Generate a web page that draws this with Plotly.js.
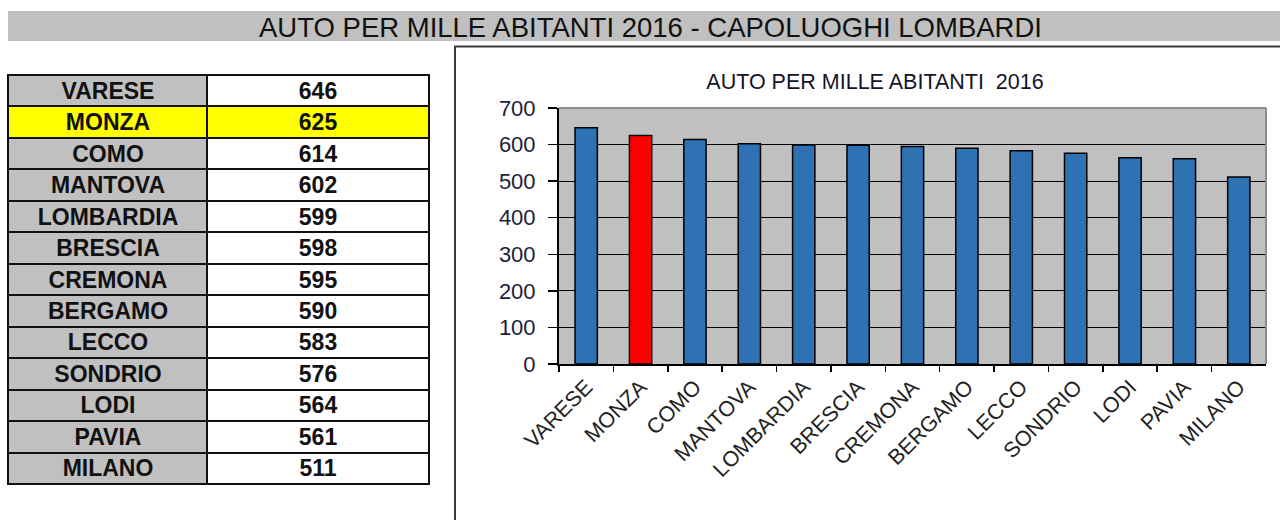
<!DOCTYPE html>
<html>
<head>
<meta charset="utf-8">
<script src="https://cdn.plot.ly/plotly-3.0.1.min.js"></script>
<style>
  html, body { margin: 0; padding: 0; background: #ffffff; }
  #chart { width: 1280px; height: 520px; }
</style>
</head>
<body>
<div id="chart"></div>
<script>
// ---- data ----
const cities = ["VARESE", "MONZA", "COMO", "MANTOVA", "LOMBARDIA", "BRESCIA", "CREMONA",
                "BERGAMO", "LECCO", "SONDRIO", "LODI", "PAVIA", "MILANO"];
const carsPerThousand = [646, 625, 614, 602, 599, 598, 595, 590, 583, 576, 564, 561, 511];
const highlightCity = "MONZA";
const yTickValues = [0, 100, 200, 300, 400, 500, 600, 700];
const pageTitle = "AUTO PER MILLE ABITANTI 2016 - CAPOLUOGHI LOMBARDI";
const chartTitle = "AUTO PER MILLE ABITANTI  2016";

// ---- styling helpers ----
const W = 1280, H = 520;
const px = x => x / W;
const py = y => 1 - y / H;
const FONT = "Liberation Sans, Arial, sans-serif";
const BLUE = "#2E72B4", RED = "#FF0000";
const GRAY = "#C0C0C0", YELLOW = "#FFFF00";

const barColors = cities.map(c => c === highlightCity ? RED : BLUE);
const bold = v => "<b>" + v + "</b>";

// table built from the data arrays: column 0 = name, column 1 = value
const tableColEdges = [0, 199, 421];            // layout: column widths of the table
const tableFillCodes = cities.map(c => c === highlightCity ? [2, 2] : [0, 1]); // 0 gray, 1 white, 2 yellow
const tableText = cities.map((c, i) => [bold(c), bold(carsPerThousand[i])]);

const tableTrace = {
  type: "heatmap",
  x: tableColEdges,
  y: cities,
  z: tableFillCodes,
  text: tableText,
  texttemplate: "%{text}",
  textfont: { family: FONT, size: 23, color: "#111111" },
  colorscale: [[0, GRAY], [0.5, "#FFFFFF"], [1, YELLOW]],
  zmin: 0, zmax: 2,
  showscale: false,
  xgap: 2, ygap: 2,
  xaxis: "x2", yaxis: "y2",
  hoverinfo: "skip"
};

const barTrace = {
  type: "bar",
  x: cities,
  y: carsPerThousand,
  width: 0.41,
  marker: { color: barColors, line: { color: "#000000", width: 1.5 } },
  hoverinfo: "x+y"
};

const layout = {
  width: W,
  height: H,
  margin: { l: 0, r: 0, t: 0, b: 0 },
  paper_bgcolor: "#FFFFFF",
  plot_bgcolor: GRAY,
  showlegend: false,
  font: { family: FONT, color: "#1a1a1a" },
  title: {
    text: chartTitle,
    x: px(875), xref: "paper", xanchor: "center",
    y: py(81), yref: "paper", yanchor: "middle",
    font: { family: FONT, size: 21.5, color: "#141428" }
  },
  xaxis: {
    domain: [px(559), px(1266)],
    type: "category",
    showgrid: false,
    showline: true, linecolor: "#000000", linewidth: 2,
    ticks: "outside", tickson: "boundaries", ticklen: 6, tickwidth: 1.5, tickcolor: "#000000",
    tickangle: -45,
    tickfont: { family: FONT, size: 21.5, color: "#222222" },
    fixedrange: true
  },
  yaxis: {
    domain: [py(364), py(108)],
    range: [0, 700],
    tickvals: yTickValues,
    showgrid: true, gridcolor: "#000000", gridwidth: 1,
    zeroline: false,
    showline: true, linecolor: "#000000", linewidth: 2,
    ticks: "outside", ticklen: 9, tickwidth: 1.5, tickcolor: "#000000",
    ticklabelstandoff: 8,
    tickfont: { family: FONT, size: 22, color: "#1e1e3a" },
    fixedrange: true
  },
  xaxis2: {
    domain: [px(8), px(429)],
    range: [tableColEdges[0], tableColEdges[tableColEdges.length - 1]],
    anchor: "y2",
    showgrid: false, zeroline: false, showticklabels: false, ticks: "",
    showline: false,
    fixedrange: true
  },
  yaxis2: {
    domain: [py(484), py(75)],
    anchor: "x2",
    type: "category",
    autorange: "reversed",
    showgrid: false, zeroline: false, showticklabels: false, ticks: "",
    showline: false,
    fixedrange: true
  },
  shapes: [
    // page banner
    { type: "rect", xref: "paper", yref: "paper", x0: px(8), x1: 1.01, y0: py(41), y1: py(11),
      fillcolor: GRAY, line: { width: 0 }, layer: "below" },
    // dark backing for the table cell borders
    { type: "rect", xref: "paper", yref: "paper", x0: px(7), x1: px(430), y0: py(485), y1: py(74),
      fillcolor: "#111111", line: { width: 0 }, layer: "below" },
    // chart frame
    { type: "rect", xref: "paper", yref: "paper", x0: px(455), x1: 1.02, y0: -0.05, y1: py(46.5),
      fillcolor: "rgba(0,0,0,0)", line: { color: "#3a3a3a", width: 2 } },
    // plot area top & right border
    { type: "line", xref: "paper", yref: "paper", x0: px(559), x1: px(1266), y0: py(108), y1: py(108),
      line: { color: "#8c8c8c", width: 2 } },
    { type: "line", xref: "paper", yref: "paper", x0: px(1266), x1: px(1266), y0: py(364), y1: py(108),
      line: { color: "#8c8c8c", width: 2 } }
  ],
  annotations: [
    { text: pageTitle, xref: "paper", yref: "paper", x: px(650), y: py(27),
      xanchor: "center", yanchor: "middle", showarrow: false,
      font: { family: FONT, size: 27.5, color: "#111111" } }
  ]
};

Plotly.newPlot("chart", [tableTrace, barTrace], layout, { displayModeBar: false, staticPlot: true });
</script>
</body>
</html>
